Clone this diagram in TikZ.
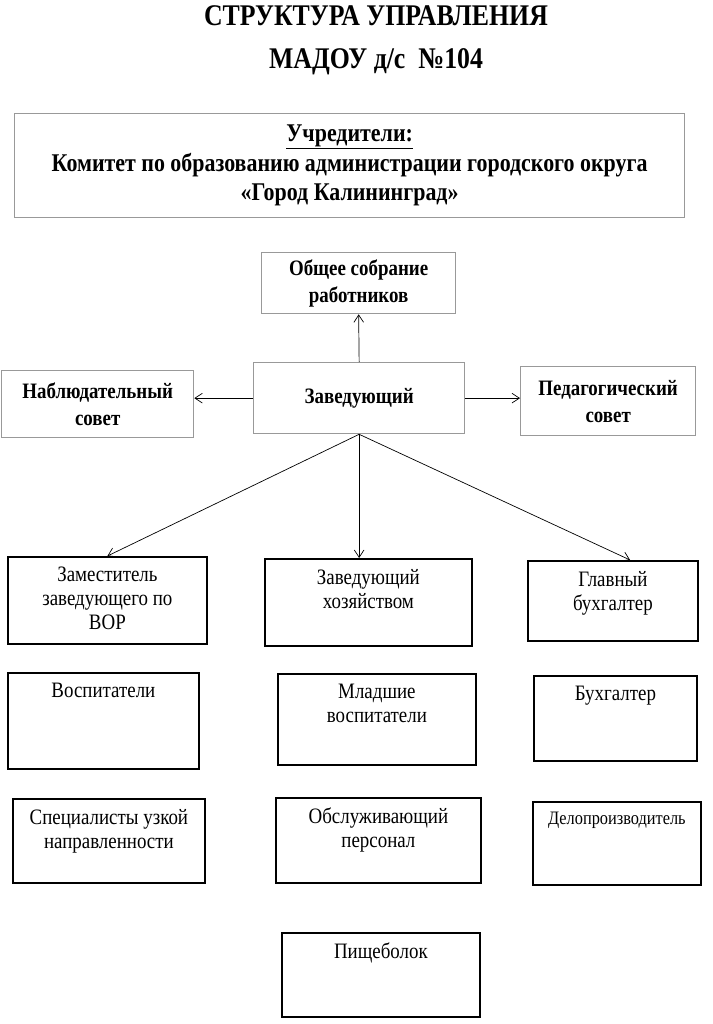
\documentclass[tikz,border=0pt]{standalone}
\usepackage{fontspec}
\setmainfont{Liberation Serif}[FakeStretch=0.86]
\usepackage{tikz}
\usetikzlibrary{arrows.meta,positioning,calc}

\begin{document}
\begin{tikzpicture}[x=1pt, y=-1pt,
  head/.style={font=\bfseries\fontsize{30}{34}\selectfont, inner sep=0pt},
  upbox/.style={draw=black!40, line width=1.3pt, anchor=north west, align=center, inner sep=2pt, font=\bfseries\fontsize{22}{27}\selectfont},
  lowbox/.style={draw, line width=1.8pt, anchor=north west},
  txt/.style={anchor=north, align=center, inner sep=0pt, yshift=-11pt, font=\fontsize{22}{24}\selectfont},
  arr/.style={-{Straight Barb[length=2.6mm, width=3.4mm]}, line width=0.7pt}]
  \useasboundingbox (0,0) rectangle (712,1024);
  % title
  \node[head] (t1) at (376,16) {СТРУКТУРА УПРАВЛЕНИЯ};
  \node[head] (t2) at (376,62) {МАДОУ д/с\ \ №104};
  \node[upbox, minimum width=670pt, minimum height=104pt, font=\bfseries\fontsize{25.5}{29.5}\selectfont] (uchr) at (14,113)
       {\underline{Учредители:}\\Комитет по образованию администрации городского округа\\«Город Калининград»};
  % management row
  \node[upbox, minimum width=194pt, minimum height=61pt] (sobr) at (261,252) {Общее собрание\\работников};
  \node[upbox, minimum width=211pt, minimum height=71pt] (zav) at (253,362) {Заведующий};
  \node[upbox, minimum width=192pt, minimum height=67pt] (nabl) at (1,370) {Наблюдательный\\совет};
  \node[upbox, minimum width=175pt, minimum height=69pt] (ped) at (520,366) {Педагогический\\совет};
  % staff
  \node[lowbox, minimum width=199pt, minimum height=87pt, label={[txt]north:Заместитель\\заведующего по\\ВОР}] (zam) at (7,556) {};
  \node[lowbox, minimum width=207pt, minimum height=87pt, label={[txt]north:Заведующий\\хозяйством}] (zhoz) at (264,558) {};
  \node[lowbox, minimum width=170pt, minimum height=80pt, label={[txt]north:Главный\\бухгалтер}] (gbuh) at (527,560) {};
  \node[lowbox, minimum width=191pt, minimum height=96pt, label={[txt]north:Воспитатели}] (vosp) at (7,672) {};
  \node[lowbox, minimum width=198pt, minimum height=91pt, label={[txt]north:Младшие\\воспитатели}] (mlad) at (277,673) {};
  \node[lowbox, minimum width=163pt, minimum height=85pt, label={[txt]north:Бухгалтер}] (buh) at (533,675) {};
  \node[lowbox, minimum width=192pt, minimum height=84pt, label={[txt]north:Специалисты узкой\\направленности}] (spec) at (12,798) {};
  \node[lowbox, minimum width=205pt, minimum height=85pt, label={[txt]north:Обслуживающий\\персонал}] (obsl) at (275,797) {};
  \node[lowbox, minimum width=168pt, minimum height=83pt, label={[txt, font=\fontsize{19}{22}\selectfont]north:Делопроизводитель}] (delo) at (532,801) {};
  \node[lowbox, minimum width=198pt, minimum height=84pt, label={[txt]north:Пищеболок}] (pish) at (281,932) {};
  % arrows
  \draw[arr] (zav.north) -- (sobr.south);
  \draw[arr] (zav.west) -- (zav.west -| nabl.east);
  \draw[arr] (zav.east) -- (zav.east -| ped.west);
  \draw[arr] (zav.south) -- (zam.north);
  \draw[arr] (zav.south) -- (zav.south |- zhoz.north);
  \draw[arr] (zav.south) -- ($(gbuh.north west)!0.6!(gbuh.north east)$);
\end{tikzpicture}
\end{document}
